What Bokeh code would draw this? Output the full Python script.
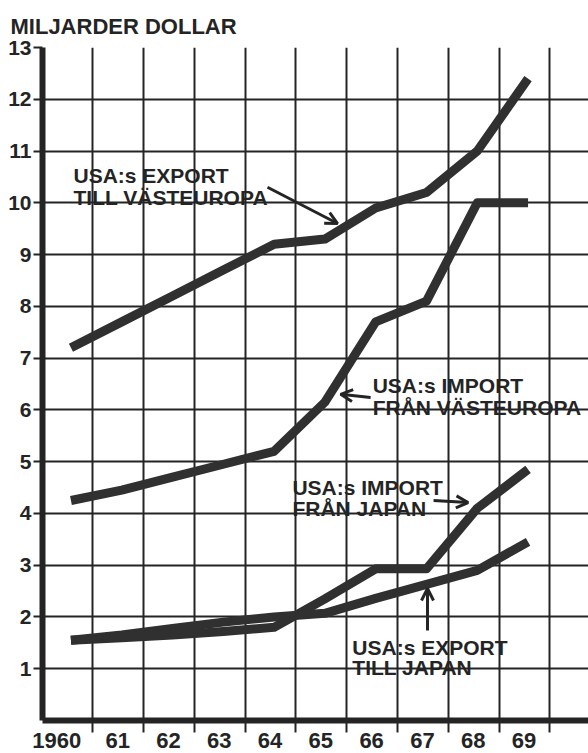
from bokeh.plotting import figure
from bokeh.models import FixedTicker, Range1d, Arrow, OpenHead, ColumnDataSource, CustomJSTickFormatter
from bokeh.core.properties import value
from bokeh.embed import file_html
from bokeh.resources import INLINE

# ---- data (miljarder dollar) ----
years = [1960, 1961, 1962, 1963, 1964, 1965, 1966, 1967, 1968, 1969]
year_labels = ["1960", "61", "62", "63", "64", "65", "66", "67", "68", "69"]
export_vasteuropa = [7.2, 7.7, 8.2, 8.7, 9.2, 9.3, 9.9, 10.2, 11.0, 12.4]
import_vasteuropa = [4.25, 4.45, 4.7, 4.95, 5.2, 6.15, 7.7, 8.1, 10.0, 10.0]
import_japan = [1.55, 1.6, 1.65, 1.72, 1.8, 2.35, 2.93, 2.93, 4.1, 4.85]
export_japan = [1.55, 1.65, 1.78, 1.9, 2.0, 2.07, 2.36, 2.63, 2.9, 3.45]
y_ticks = list(range(1, 14))

ann_text = ["USA:s EXPORT", "TILL VÄSTEUROPA",
            "USA:s IMPORT", "FRÅN VÄSTEUROPA",
            "USA:s IMPORT", "FRÅN JAPAN",
            "USA:s EXPORT", "TILL JAPAN"]

# ---- styling / positions ----
INK = "#242424"
LINE = "#303030"
FONT = "Liberation Sans"

ann_x = [1960.05, 1960.05, 1965.94, 1965.94, 1964.36, 1964.36, 1965.54, 1965.54]
ann_y = [10.53, 10.10, 6.47, 6.05, 4.50, 4.10, 1.41, 1.02]
arrows = [(1963.87, 10.30, 1965.25, 9.60),
          (1965.90, 6.24, 1965.31, 6.30),
          (1967.14, 4.25, 1967.82, 4.21),
          (1967.02, 1.74, 1967.02, 2.55)]

label_pos = [y - 0.08 for y in years]
label_pos[0] = years[0] - 0.28
grid_pos = [y + 0.43 for y in years]

p = figure(width=588, height=753, output_backend="svg", toolbar_location=None,
           x_range=Range1d(1959.44, 1970.19), y_range=Range1d(0, 13),
           min_border_left=42, min_border_right=0, min_border_top=47, min_border_bottom=33,
           title="MILJARDER DOLLAR")
p.outline_line_color = None
p.background_fill_color = "white"
p.border_fill_color = "white"

p.title.text_font = FONT
p.title.text_font_size = "22px"
p.title.text_font_style = "bold"
p.title.text_color = INK
p.title.align = "left"
p.title.offset = -32
p.title.standoff = 18

# y axis
p.yaxis.ticker = FixedTicker(ticks=y_ticks)
p.yaxis.axis_line_width = 6
p.yaxis.axis_line_color = INK
p.yaxis.major_tick_out = 9
p.yaxis.major_tick_in = 0
p.yaxis.major_tick_line_width = 2
p.yaxis.major_tick_line_color = INK
p.yaxis.minor_tick_line_color = None
p.yaxis.major_label_standoff = 2
p.yaxis.major_label_text_font = FONT
p.yaxis.major_label_text_font_style = "bold"
p.yaxis.major_label_text_font_size = "21px"
p.yaxis.major_label_text_color = INK

# x axis
p.xaxis.ticker = FixedTicker(ticks=label_pos, minor_ticks=grid_pos)
p.xaxis.formatter = CustomJSTickFormatter(args=dict(labels=year_labels), code="return labels[index]")
p.xaxis.axis_line_width = 6
p.xaxis.axis_line_color = INK
p.xaxis.major_tick_out = 0
p.xaxis.major_tick_in = 0
p.xaxis.major_tick_line_color = None
p.xaxis.minor_tick_out = 12
p.xaxis.minor_tick_in = 0
p.xaxis.minor_tick_line_width = 2
p.xaxis.minor_tick_line_color = INK
p.xaxis.major_label_standoff = 0
p.xaxis.major_label_text_font = FONT
p.xaxis.major_label_text_font_style = "bold"
p.xaxis.major_label_text_font_size = "22px"
p.xaxis.major_label_text_color = INK

# grids
p.xgrid.ticker = FixedTicker(ticks=grid_pos)
p.ygrid.ticker = FixedTicker(ticks=y_ticks)
for g in (p.xgrid, p.ygrid):
    g.grid_line_color = INK
    g.grid_line_width = 2
    g.grid_line_alpha = 1.0

# series
for series in (export_vasteuropa, import_vasteuropa, import_japan, export_japan):
    p.line(years, series, line_width=9, line_color=LINE, line_join="round", line_cap="butt")

# annotations
src = ColumnDataSource(dict(x=ann_x, y=ann_y, text=ann_text))
p.text(x="x", y="y", text="text", source=src, text_font=value(FONT), text_font_style="bold",
       text_font_size="21px", text_color=INK, text_baseline="alphabetic", text_align="left")

for x0, y0, x1, y1 in arrows:
    p.add_layout(Arrow(end=OpenHead(size=12, line_width=3, line_color=INK),
                       x_start=x0, y_start=y0, x_end=x1, y_end=y1,
                       line_width=3, line_color=INK))

open("out.html", "w").write(file_html(p, INLINE))
